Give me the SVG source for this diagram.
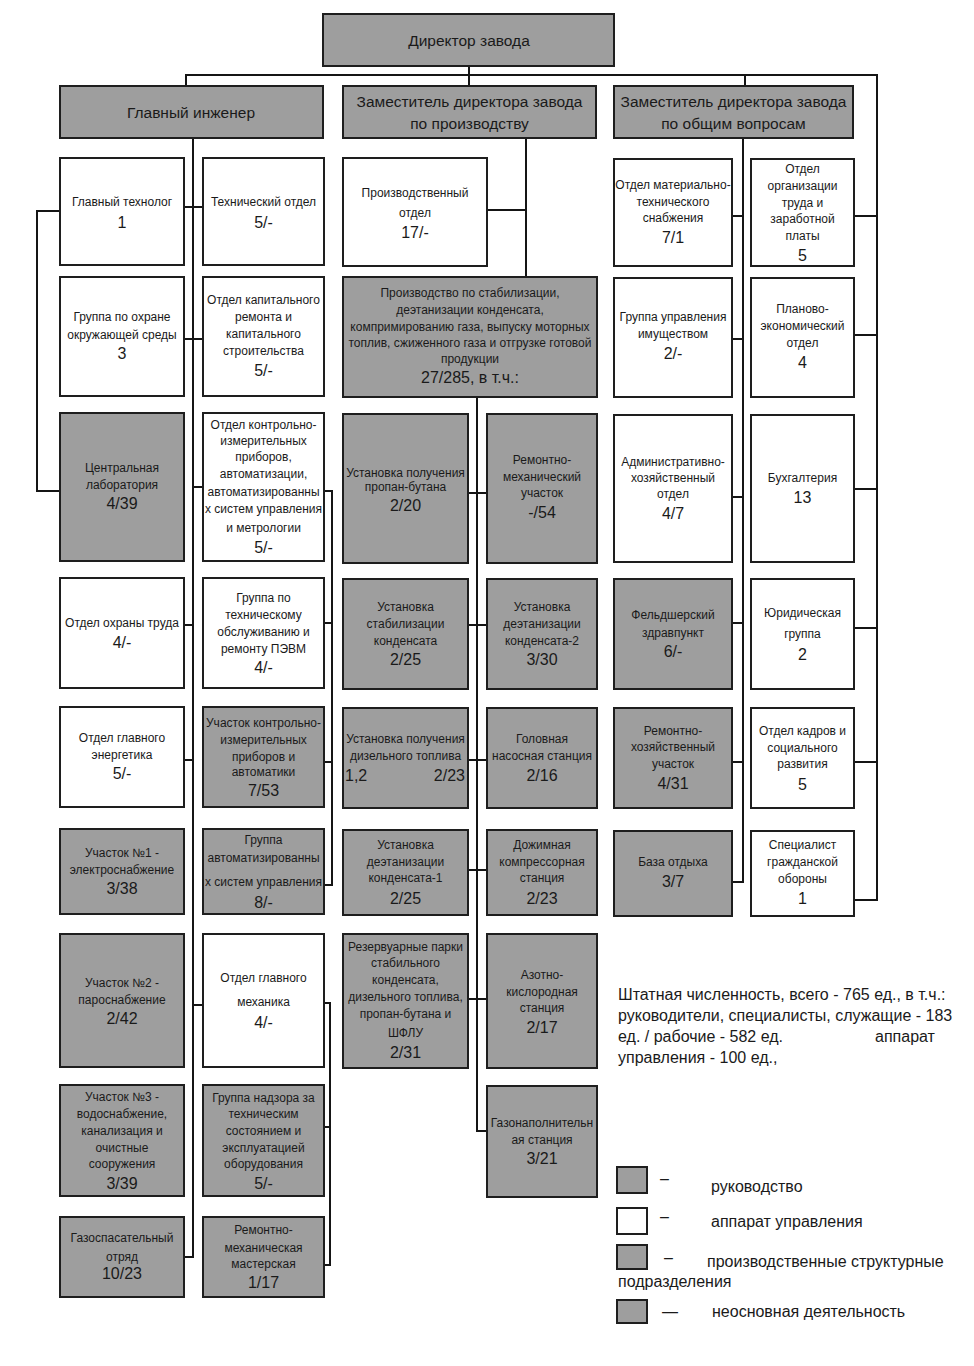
<svg xmlns="http://www.w3.org/2000/svg" width="974" height="1366" viewBox="0 0 974 1366">
<style>
.g{fill:#9e9e9e;stroke:#1e1e1e;stroke-width:2}
.w{fill:#ffffff;stroke:#1e1e1e;stroke-width:2}
text{font-family:"Liberation Sans","DejaVu Sans",sans-serif;fill:#1a1a1a;text-anchor:middle}
.t{font-size:12px}
.n{font-size:16px}
.h{font-size:15.5px}
.l{font-size:16px;text-anchor:start}
.c{fill:none;stroke:#151515;stroke-width:2}
</style>
<rect width="974" height="1366" fill="#ffffff"/>

<g id="connectors" class="c">
<path d="M469,66 V75"/>
<path d="M186,87 V75 H877 V900 H854"/>
<path d="M469,75 V87"/>
<path d="M745,75 V87"/>
<path d="M854,216 H877 M854,335 H877 M854,489 H877 M854,628 H877 M854,762 H877"/>
<path d="M193,138 V1257 H184"/>
<path d="M184,207 H203 M184,339 H203 M193,487 H203 M184,625 H193 M184,760 H193 M193,1005 H203"/>
<path d="M60,211 H37 V491 H60"/>
<path d="M324,491 H332 V885 H324 M324,623 H332 M324,762 H332"/>
<path d="M324,1003 H330 V1265 H324 M324,1127 H330"/>
<path d="M526,138 V277 M487,210 H526"/>
<path d="M477,397 V1131 H487"/>
<path d="M468,493 H487 M468,625 H487 M468,760 H487 M468,870 H487 M468,999 H487"/>
<path d="M743,138 V882 H732"/>
<path d="M732,216 H743 M732,339 H743 M732,497 H743 M732,623 H743 M732,762 H743"/>
</g>

<g id="director"><rect class="g" x="323" y="14" width="291" height="52"/><text class="h" x="469" y="46">Директор завода</text></g>
<g id="chief-engineer"><rect class="g" x="60" y="86" width="263" height="52"/><text class="h" x="191" y="118">Главный инженер</text></g>
<g id="deputy-production"><rect class="g" x="343" y="86" width="253" height="52"/><text class="h" x="469.5" y="107">Заместитель директора завода</text><text class="h" x="469.5" y="129">по производству</text></g>
<g id="deputy-general"><rect class="g" x="614" y="86" width="239" height="52"/><text class="h" x="733.5" y="107">Заместитель директора завода</text><text class="h" x="733.5" y="129">по общим вопросам</text></g>

<!-- Column A -->
<g id="a1"><rect class="w" x="60" y="158" width="124" height="107"/><text class="t" x="122" y="206">Главный технолог</text><text class="n" x="122" y="228">1</text></g>
<g id="a2"><rect class="w" x="60" y="277" width="124" height="119"/><text class="t" x="122" y="321">Группа по охране</text><text class="t" x="122" y="339">окружающей среды</text><text class="n" x="122" y="359">3</text></g>
<g id="a3"><rect class="g" x="60" y="413" width="124" height="148"/><text class="t" x="122" y="472">Центральная</text><text class="t" x="122" y="489">лаборатория</text><text class="n" x="122" y="509">4/39</text></g>
<g id="a4"><rect class="w" x="60" y="578" width="124" height="110"/><text class="t" x="122" y="627">Отдел охраны труда</text><text class="n" x="122" y="648">4/-</text></g>
<g id="a5"><rect class="w" x="60" y="707" width="124" height="100"/><text class="t" x="122" y="742">Отдел главного</text><text class="t" x="122" y="759">энергетика</text><text class="n" x="122" y="779">5/-</text></g>
<g id="a6"><rect class="g" x="60" y="829" width="124" height="85"/><text class="t" x="122" y="857">Участок №1 -</text><text class="t" x="122" y="874">электроснабжение</text><text class="n" x="122" y="894">3/38</text></g>
<g id="a7"><rect class="g" x="60" y="934" width="124" height="133"/><text class="t" x="122" y="987">Участок №2 -</text><text class="t" x="122" y="1004">пароснабжение</text><text class="n" x="122" y="1024">2/42</text></g>
<g id="a8"><rect class="g" x="60" y="1085" width="124" height="111"/><text class="t" x="122" y="1101">Участок №3 -</text><text class="t" x="122" y="1118">водоснабжение,</text><text class="t" x="122" y="1135">канализация и</text><text class="t" x="122" y="1152">очистные</text><text class="t" x="122" y="1168">сооружения</text><text class="n" x="122" y="1189">3/39</text></g>
<g id="a9"><rect class="g" x="60" y="1217" width="124" height="80"/><text class="t" x="122" y="1242">Газоспасательный</text><text class="t" x="122" y="1261">отряд</text><text class="n" x="122" y="1279">10/23</text></g>

<!-- Column B -->
<g id="b1"><rect class="w" x="203" y="158" width="121" height="107"/><text class="t" x="263.5" y="206">Технический отдел</text><text class="n" x="263.5" y="228">5/-</text></g>
<g id="b2"><rect class="w" x="203" y="277" width="121" height="119"/><text class="t" x="263.5" y="304">Отдел капитального</text><text class="t" x="263.5" y="321">ремонта и</text><text class="t" x="263.5" y="338">капитального</text><text class="t" x="263.5" y="355">строительства</text><text class="n" x="263.5" y="376">5/-</text></g>
<g id="b3"><rect class="w" x="203" y="413" width="121" height="148"/><text class="t" x="263.5" y="429">Отдел контрольно-</text><text class="t" x="263.5" y="445">измерительных</text><text class="t" x="263.5" y="461">приборов,</text><text class="t" x="263.5" y="478">автоматизации,</text><text class="t" x="263.5" y="496">автоматизированны</text><text class="t" x="263.5" y="513">х систем управления</text><text class="t" x="263.5" y="532">и метрологии</text><text class="n" x="263.5" y="553">5/-</text></g>
<g id="b4"><rect class="w" x="203" y="578" width="121" height="110"/><text class="t" x="263.5" y="602">Группа по</text><text class="t" x="263.5" y="619">техническому</text><text class="t" x="263.5" y="636">обслуживанию и</text><text class="t" x="263.5" y="653">ремонту ПЭВМ</text><text class="n" x="263.5" y="673">4/-</text></g>
<g id="b5"><rect class="g" x="203" y="707" width="121" height="100"/><text class="t" x="263.5" y="727">Участок контрольно-</text><text class="t" x="263.5" y="744">измерительных</text><text class="t" x="263.5" y="761">приборов и</text><text class="t" x="263.5" y="776">автоматики</text><text class="n" x="263.5" y="796">7/53</text></g>
<g id="b6"><rect class="g" x="203" y="829" width="121" height="85"/><text class="t" x="263.5" y="844">Группа</text><text class="t" x="263.5" y="862">автоматизированны</text><text class="t" x="263.5" y="886">х систем управления</text><text class="n" x="263.5" y="908">8/-</text></g>
<g id="b7"><rect class="w" x="203" y="934" width="121" height="133"/><text class="t" x="263.5" y="982">Отдел главного</text><text class="t" x="263.5" y="1006">механика</text><text class="n" x="263.5" y="1028">4/-</text></g>
<g id="b8"><rect class="g" x="203" y="1085" width="121" height="111"/><text class="t" x="263.5" y="1102">Группа надзора за</text><text class="t" x="263.5" y="1118">техническим</text><text class="t" x="263.5" y="1135">состоянием и</text><text class="t" x="263.5" y="1152">эксплуатацией</text><text class="t" x="263.5" y="1168">оборудования</text><text class="n" x="263.5" y="1189">5/-</text></g>
<g id="b9"><rect class="g" x="203" y="1217" width="121" height="80"/><text class="t" x="263.5" y="1234">Ремонтно-</text><text class="t" x="263.5" y="1252">механическая</text><text class="t" x="263.5" y="1268">мастерская</text><text class="n" x="263.5" y="1288">1/17</text></g>

<!-- Middle -->
<g id="prod-dept"><rect class="w" x="343" y="158" width="144" height="108"/><text class="t" x="415" y="197">Производственный</text><text class="t" x="415" y="217">отдел</text><text class="n" x="415" y="238">17/-</text></g>
<g id="production"><rect class="g" x="343" y="277" width="254" height="120"/><text class="t" x="470" y="297">Производство по стабилизации,</text><text class="t" x="470" y="314">деэтанизации конденсата,</text><text class="t" x="470" y="331">компримированию газа, выпуску моторных</text><text class="t" x="470" y="347">топлив, сжиженного газа и отгрузке готовой</text><text class="t" x="470" y="363">продукции</text><text class="n" x="470" y="383">27/285, в т.ч.:</text></g>
<g id="c1"><rect class="g" x="343" y="414" width="125" height="149"/><text class="t" x="405.5" y="477">Установка получения</text><text class="t" x="405.5" y="491">пропан-бутана</text><text class="n" x="405.5" y="511">2/20</text></g>
<g id="d1"><rect class="g" x="487" y="414" width="110" height="149"/><text class="t" x="542" y="464">Ремонтно-</text><text class="t" x="542" y="481">механический</text><text class="t" x="542" y="497">участок</text><text class="n" x="542" y="518">-/54</text></g>
<g id="c2"><rect class="g" x="343" y="579" width="125" height="110"/><text class="t" x="405.5" y="611">Установка</text><text class="t" x="405.5" y="628">стабилизации</text><text class="t" x="405.5" y="645">конденсата</text><text class="n" x="405.5" y="665">2/25</text></g>
<g id="d2"><rect class="g" x="487" y="579" width="110" height="110"/><text class="t" x="542" y="611">Установка</text><text class="t" x="542" y="628">деэтанизации</text><text class="t" x="542" y="645">конденсата-2</text><text class="n" x="542" y="665">3/30</text></g>
<g id="c3"><rect class="g" x="343" y="708" width="125" height="100"/><text class="t" x="405.5" y="743">Установка получения</text><text class="t" x="405.5" y="760">дизельного топлива</text><text class="n" x="345" y="781" style="text-anchor:start">1,2</text><text class="n" x="465" y="781" style="text-anchor:end">2/23</text></g>
<g id="d3"><rect class="g" x="487" y="708" width="110" height="100"/><text class="t" x="542" y="743">Головная</text><text class="t" x="542" y="760">насосная станция</text><text class="n" x="542" y="781">2/16</text></g>
<g id="c4"><rect class="g" x="343" y="830" width="125" height="85"/><text class="t" x="405.5" y="849">Установка</text><text class="t" x="405.5" y="866">деэтанизации</text><text class="t" x="405.5" y="882">конденсата-1</text><text class="n" x="405.5" y="904">2/25</text></g>
<g id="d4"><rect class="g" x="487" y="830" width="110" height="85"/><text class="t" x="542" y="849">Дожимная</text><text class="t" x="542" y="866">компрессорная</text><text class="t" x="542" y="882">станция</text><text class="n" x="542" y="904">2/23</text></g>
<g id="c5"><rect class="g" x="343" y="934" width="125" height="134"/><text class="t" x="405.5" y="951">Резервуарные парки</text><text class="t" x="405.5" y="967">стабильного</text><text class="t" x="405.5" y="984">конденсата,</text><text class="t" x="405.5" y="1001">дизельного топлива,</text><text class="t" x="405.5" y="1018">пропан-бутана и</text><text class="t" x="405.5" y="1037">ШФЛУ</text><text class="n" x="405.5" y="1058">2/31</text></g>
<g id="d5"><rect class="g" x="487" y="934" width="110" height="134"/><text class="t" x="542" y="979">Азотно-</text><text class="t" x="542" y="996">кислородная</text><text class="t" x="542" y="1012">станция</text><text class="n" x="542" y="1033">2/17</text></g>
<g id="d6"><rect class="g" x="487" y="1086" width="110" height="111"/><text class="t" x="542" y="1127">Газонаполнительн</text><text class="t" x="542" y="1144">ая станция</text><text class="n" x="542" y="1164">3/21</text></g>

<!-- Right -->
<g id="e1"><rect class="w" x="614" y="159" width="118" height="107"/><text class="t" x="673" y="189">Отдел материально-</text><text class="t" x="673" y="206">технического</text><text class="t" x="673" y="222">снабжения</text><text class="n" x="673" y="243">7/1</text></g>
<g id="f1"><rect class="w" x="751" y="159" width="103" height="107"/><text class="t" x="802.5" y="173">Отдел</text><text class="t" x="802.5" y="190">организации</text><text class="t" x="802.5" y="207">труда и</text><text class="t" x="802.5" y="223">заработной</text><text class="t" x="802.5" y="240">платы</text><text class="n" x="802.5" y="261">5</text></g>
<g id="e2"><rect class="w" x="614" y="278" width="118" height="119"/><text class="t" x="673" y="321">Группа управления</text><text class="t" x="673" y="338">имуществом</text><text class="n" x="673" y="359">2/-</text></g>
<g id="f2"><rect class="w" x="751" y="278" width="103" height="119"/><text class="t" x="802.5" y="313">Планово-</text><text class="t" x="802.5" y="330">экономический</text><text class="t" x="802.5" y="347">отдел</text><text class="n" x="802.5" y="368">4</text></g>
<g id="e3"><rect class="w" x="614" y="415" width="118" height="147"/><text class="t" x="673" y="466">Административно-</text><text class="t" x="673" y="482">хозяйственный</text><text class="t" x="673" y="498">отдел</text><text class="n" x="673" y="519">4/7</text></g>
<g id="f3"><rect class="w" x="751" y="415" width="103" height="147"/><text class="t" x="802.5" y="482">Бухгалтерия</text><text class="n" x="802.5" y="503">13</text></g>
<g id="e4"><rect class="g" x="614" y="579" width="118" height="110"/><text class="t" x="673" y="619">Фельдшерский</text><text class="t" x="673" y="637">здравпункт</text><text class="n" x="673" y="657">6/-</text></g>
<g id="f4"><rect class="w" x="751" y="579" width="103" height="110"/><text class="t" x="802.5" y="617">Юридическая</text><text class="t" x="802.5" y="638">группа</text><text class="n" x="802.5" y="660">2</text></g>
<g id="e5"><rect class="g" x="614" y="708" width="118" height="100"/><text class="t" x="673" y="735">Ремонтно-</text><text class="t" x="673" y="751">хозяйственный</text><text class="t" x="673" y="768">участок</text><text class="n" x="673" y="789">4/31</text></g>
<g id="f5"><rect class="w" x="751" y="708" width="103" height="100"/><text class="t" x="802.5" y="735">Отдел кадров и</text><text class="t" x="802.5" y="752">социального</text><text class="t" x="802.5" y="768">развития</text><text class="n" x="802.5" y="790">5</text></g>
<g id="e6"><rect class="g" x="614" y="831" width="118" height="85"/><text class="t" x="673" y="866">База отдыха</text><text class="n" x="673" y="887">3/7</text></g>
<g id="f6"><rect class="w" x="751" y="831" width="103" height="85"/><text class="t" x="802.5" y="849">Специалист</text><text class="t" x="802.5" y="866">гражданской</text><text class="t" x="802.5" y="883">обороны</text><text class="n" x="802.5" y="904">1</text></g>

<!-- Note -->
<g id="note">
<text class="l" x="618" y="1000">Штатная численность, всего - 765 ед., в т.ч.:</text>
<text class="l" x="618" y="1021">руководители, специалисты, служащие - 183</text>
<text class="l" x="618" y="1042">ед. / рабочие - 582 ед.</text>
<text class="l" x="875" y="1042">аппарат</text>
<text class="l" x="618" y="1063">управления - 100 ед.,</text>
</g>

<!-- Legend -->
<g id="legend">
<rect class="g" x="617" y="1167" width="30" height="26"/>
<text class="l" x="660" y="1184">–</text>
<text class="l" x="711" y="1192">руководство</text>
<rect class="w" x="617" y="1208" width="30" height="26"/>
<text class="l" x="660" y="1222">–</text>
<text class="l" x="711" y="1227">аппарат управления</text>
<rect class="g" x="617" y="1245" width="30" height="24"/>
<text class="l" x="664" y="1263">–</text>
<text class="l" x="707" y="1267">производственные структурные</text>
<text class="l" x="618" y="1287">подразделения</text>
<rect class="g" x="617" y="1300" width="30" height="23"/>
<text class="l" x="662" y="1317">—</text>
<text class="l" x="712" y="1317">неосновная деятельность</text>
</g>
</svg>
